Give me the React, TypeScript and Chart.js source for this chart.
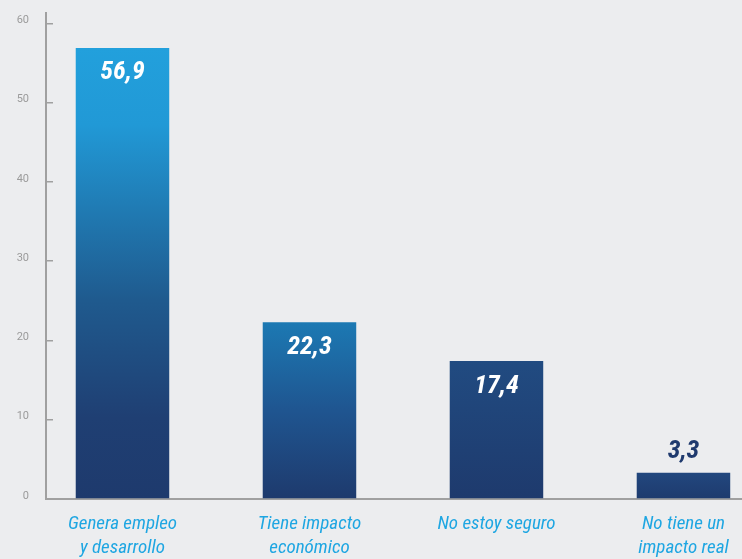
import React, { useEffect, useRef } from "react";
import { Chart, registerables } from "chart.js";

Chart.register(...registerables);

// ---- Data ----
const categories: string[][] = [
  ["Genera empleo", "y desarrollo"],
  ["Tiene impacto", "económico"],
  ["No estoy seguro"],
  ["No tiene un", "impacto real"],
];
const values: number[] = [56.9, 22.3, 17.4, 3.3];
const yTicks: number[] = [0, 10, 20, 30, 40, 50, 60];

// ---- Style ----
const BG = "#ecedef";
const AXIS = "#a0a0a0";
const TICK_TEXT = "#9b9b9b";
const CAT_TEXT = "#1ea6e2";
const DARK = "#1f3a6e";
const COND = '"Roboto Condensed", "DejaVu Sans Condensed", sans-serif';
const barStops: [number, string][][] = [
  [[0, "#22a0dc"], [0.17, "#2199d6"], [0.56, "#1f5a8e"], [0.82, "#1f3f73"], [1, "#1e3a6d"]],
  [[0, "#1c79b3"], [0.5, "#1f5590"], [1, "#1e3a6d"]],
  [[0, "#214b81"], [1, "#1e3a6d"]],
  [[0, "#22477e"], [1, "#1e3b6e"]],
];

const fmt = (v: number) => v.toFixed(1).replace(".", ",");

const valueLabels = {
  id: "valueLabels",
  afterDatasetsDraw(chart: any) {
    const ctx = chart.ctx;
    const meta = chart.getDatasetMeta(0);
    ctx.save();
    ctx.font = `italic bold 26px ${COND}`;
    ctx.textAlign = "center";
    ctx.textBaseline = "middle";
    meta.data.forEach((el: any, i: number) => {
      const v = values[i];
      const h = el.base - el.y;
      if (h > 60) {
        ctx.fillStyle = "#ffffff";
        ctx.fillText(fmt(v), el.x, el.y + 25);
      } else {
        ctx.fillStyle = DARK;
        ctx.fillText(fmt(v), el.x, el.y - 21);
      }
    });
    ctx.restore();
  },
};

export default function App() {
  const ref = useRef<HTMLCanvasElement | null>(null);

  useEffect(() => {
    if (!ref.current) return;
    const chart = new Chart(ref.current, {
      type: "bar",
      data: {
        datasets: [
          {
            data: values.map((v, i) => ({ x: i, y: v })),
            backgroundColor: (c: any) => {
              const chart = c.chart;
              if (!chart.chartArea || c.type !== "data") return "#1f4f88";
              const ys = chart.scales.y;
              const top = ys.getPixelForValue(values[c.dataIndex]);
              const base = ys.getPixelForValue(0);
              const g = chart.ctx.createLinearGradient(0, top, 0, base);
              barStops[c.dataIndex].forEach(([o, col]) => g.addColorStop(o, col));
              return g;
            },
            borderWidth: 0,
            barPercentage: 0.5,
            categoryPercentage: 1,
          },
        ],
      },
      options: {
        responsive: false,
        animation: false,
        devicePixelRatio: 1,
        layout: { padding: { top: 13, right: 0, bottom: 0, left: 0 } },
        plugins: {
          legend: { display: false },
          tooltip: { enabled: false },
        },
        scales: {
          x: {
            type: "linear",
            offset: false,
            min: -0.409,
            max: 3.313,
            afterBuildTicks: (s: any) => {
              s.ticks = categories.map((_, i) => ({ value: i }));
            },
            afterFit: (s: any) => {
              s.height = 60;
              s.paddingLeft = 0;
              s.paddingRight = 0;
            },
            grid: { display: false },
            border: { display: true, color: AXIS, width: 2 },
            ticks: {
              autoSkip: false,
              maxRotation: 0,
              minRotation: 0,
              padding: 5,
              color: CAT_TEXT,
              font: { family: COND, size: 19, style: "italic", lineHeight: "24px" },
              callback: (v: any) => categories[Math.round(Number(v))] ?? "",
            },
          },
          y: {
            min: 0,
            max: 61.3,
            afterBuildTicks: (s: any) => {
              s.ticks = yTicks.map((v) => ({ value: v }));
            },
            afterFit: (s: any) => {
              s.width = 46;
              s.paddingTop = 0;
              s.paddingBottom = 0;
            },
            grid: {
              display: true,
              drawOnChartArea: false,
              drawTicks: true,
              tickLength: -7,
              color: AXIS,
              lineWidth: 1.5,
            },
            border: { display: true, color: AXIS, width: 2 },
            ticks: {
              padding: 24,
              labelOffset: -3,
              color: TICK_TEXT,
              font: { family: "Roboto", size: 11 },
              callback: (v: any) => String(v),
            },
          },
        },
      },
      plugins: [valueLabels],
    });
    return () => chart.destroy();
  }, []);

  return (
    <div
      style={{
        position: "absolute",
        left: 0,
        top: 0,
        width: 742,
        height: 559,
        background: BG,
      }}
    >
      <canvas ref={ref} width={742} height={559} style={{ display: "block" }} />
    </div>
  );
}
